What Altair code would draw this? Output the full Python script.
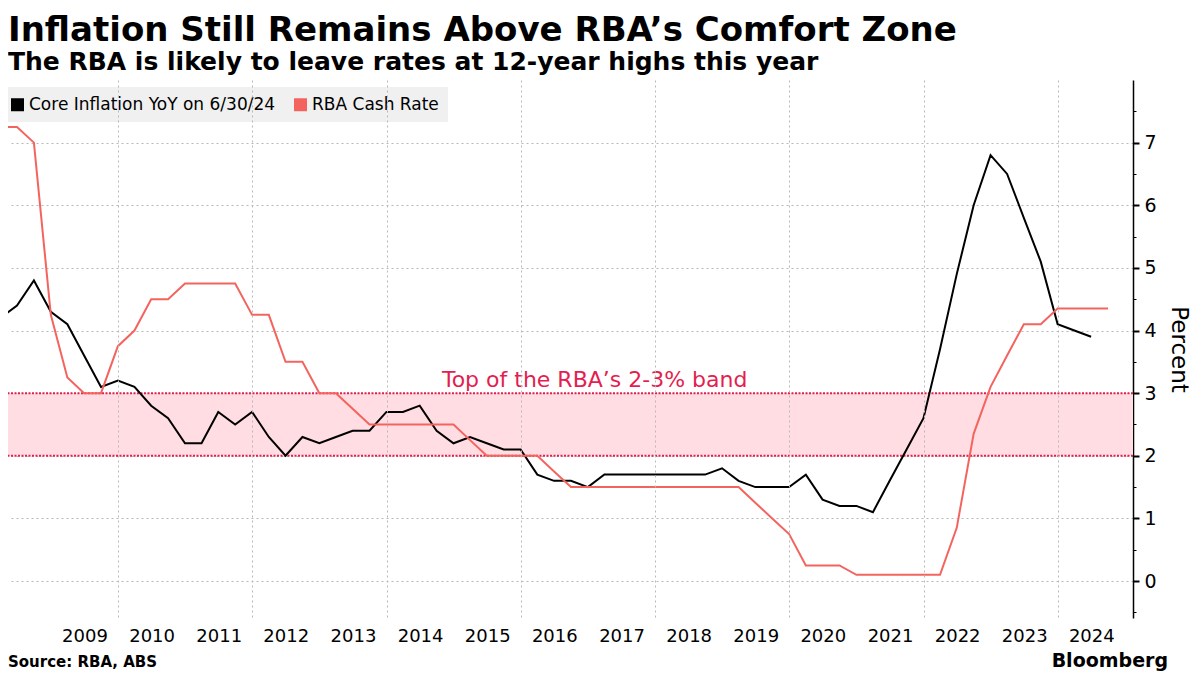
import altair as alt
import pandas as pd

# ---------------- data ----------------
title_text = "Inflation Still Remains Above RBA’s Comfort Zone"
subtitle_text = "The RBA is likely to leave rates at 12-year highs this year"
series_names = ["Core Inflation YoY on 6/30/24", "RBA Cash Rate"]
series_colors = ["#000000", "#f4645f"]

years = [2008, 2009, 2010, 2011, 2012, 2013, 2014, 2015, 2016,
         2017, 2018, 2019, 2020, 2021, 2022, 2023, 2024]
quarter_ends = ["03-31", "06-30", "09-30", "12-31"]
quarters = [f"{y}-{q}" for y in years for q in quarter_ends]

core_inflation = [
    4.2, 4.4, 4.8, 4.3,   # 2008
    4.1, 3.6, 3.1, 3.2,   # 2009
    3.1, 2.8, 2.6, 2.2,   # 2010
    2.2, 2.7, 2.5, 2.7,   # 2011
    2.3, 2.0, 2.3, 2.2,   # 2012
    2.3, 2.4, 2.4, 2.7,   # 2013
    2.7, 2.8, 2.4, 2.2,   # 2014
    2.3, 2.2, 2.1, 2.1,   # 2015
    1.7, 1.6, 1.6, 1.5,   # 2016
    1.7, 1.7, 1.7, 1.7,   # 2017
    1.7, 1.7, 1.7, 1.8,   # 2018
    1.6, 1.5, 1.5, 1.5,   # 2019
    1.7, 1.3, 1.2, 1.2,   # 2020
    1.1, 1.6, 2.1, 2.6,   # 2021
    3.7, 4.9, 6.0, 6.8,   # 2022
    6.5, 5.8, 5.1, 4.1,   # 2023
    4.0, 3.9,             # 2024
]
cash_rate = [
    7.25, 7.25, 7.0, 4.25,   # 2008
    3.25, 3.0, 3.0, 3.75,    # 2009
    4.0, 4.5, 4.5, 4.75,     # 2010
    4.75, 4.75, 4.75, 4.25,  # 2011
    4.25, 3.5, 3.5, 3.0,     # 2012
    3.0, 2.75, 2.5, 2.5,     # 2013
    2.5, 2.5, 2.5, 2.5,      # 2014
    2.25, 2.0, 2.0, 2.0,     # 2015
    2.0, 1.75, 1.5, 1.5,     # 2016
    1.5, 1.5, 1.5, 1.5,      # 2017
    1.5, 1.5, 1.5, 1.5,      # 2018
    1.5, 1.25, 1.0, 0.75,    # 2019
    0.25, 0.25, 0.25, 0.1,   # 2020
    0.1, 0.1, 0.1, 0.1,      # 2021
    0.1, 0.85, 2.35, 3.1,    # 2022
    3.6, 4.1, 4.1, 4.35,     # 2023
    4.35, 4.35, 4.35,        # 2024
]

band_low = 2
band_high = 3
band_label = "Top of the RBA’s 2-3% band"
band_label_date = "2017-02-06"

axis_years = [2009, 2010, 2011, 2012, 2013, 2014, 2015, 2016,
              2017, 2018, 2019, 2020, 2021, 2022, 2023, 2024]
y_major = [0, 1, 2, 3, 4, 5, 6, 7]
y_minor = [-0.5, 0.5, 1.5, 2.5, 3.5, 4.5, 5.5, 6.5, 7.5]
y_domain = [-0.59, 8.0]

source_text = "Source: RBA, ABS"
brand_text = "Bloomberg"

# ---------------- tables ----------------
lines_df = pd.DataFrame({
    "date": quarters[:len(core_inflation)] + quarters[:len(cash_rate)],
    "value": core_inflation + cash_rate,
    "series": [series_names[0]] * len(core_inflation) + [series_names[1]] * len(cash_rate),
})
legend_df = pd.DataFrame({"series": series_names})
band_df = pd.DataFrame({"low": [band_low], "high": [band_high]})
rule_df = pd.DataFrame({"level": [band_low, band_high]})
label_df = pd.DataFrame({"date": [band_label_date], "value": [band_high], "label": [band_label]})
footer_df = pd.DataFrame({"source": [source_text], "brand": [brand_text]})

W, H = 1125, 538
FONT = "DejaVu Sans"

x_scale = alt.Scale(
    type="utc",
    domain=[alt.DateTime(year=2008, month=5, date=12, utc=True),
            alt.DateTime(year=2025, month=2, date=13, utc=True)],
)
y_scale = alt.Scale(domain=y_domain, nice=False, zero=False)
color_scale = alt.Scale(domain=series_names, range=series_colors)

x_axis = alt.Axis(
    values=[alt.DateTime(year=y, month=1, date=1, utc=True) for y in axis_years],
    labelExpr="utcFormat(datum.value, '%Y')",
    labelOffset=33.5,
    labelFont=FONT, labelFontSize=18, labelColor="#000000",
    labelPadding=9, labelOverlap=False, labelFlush=False, labelBound=False,
    ticks=False, domain=False, title=None,
    grid=True, gridColor="#b8b8b8", gridDash=[2, 3], gridWidth=1,
    gridOpacity={"condition": {"test": "utcyear(datum.value) % 2 === 0", "value": 1}, "value": 0},
    zindex=1,
)

y_axis_major = alt.Axis(
    orient="right", values=y_major, format="d",
    labelFont=FONT, labelFontSize=19, labelColor="#000000", labelPadding=5,
    labelOverlap=False, labelFlush=False,
    domain=True, domainColor="#000000", domainWidth=1.5,
    ticks=True, tickColor="#000000", tickSize=6, tickWidth=2,
    grid=True, gridColor="#b8b8b8", gridDash=[2, 3], gridWidth=1,
    title="Percent", titleFont=FONT, titleFontSize=23, titleFontWeight="normal",
    titleColor="#000000", titlePadding=10,
)

y_axis_minor = alt.Axis(
    orient="right", values=y_minor, labels=False, domain=False, grid=False,
    ticks=True, tickColor="#000000", tickSize=3, tickWidth=1, title=None,
)

# band (carries the minor-tick axis; same explicit y domain as every layer)
band = alt.Chart(band_df).mark_rect(color="#ffdde2").encode(
    y=alt.Y("low:Q", scale=y_scale, axis=y_axis_minor),
    y2="high:Q",
)

rules = alt.Chart(rule_df).mark_rule(
    color="#e0204f", strokeWidth=2, strokeDash=[2, 1.5]
).encode(y=alt.Y("level:Q", scale=y_scale, axis=y_axis_major))

lines = alt.Chart(lines_df).mark_line(strokeWidth=2, clip=True).encode(
    x=alt.X("date:T", scale=x_scale, axis=x_axis),
    y=alt.Y("value:Q", scale=y_scale, axis=None),
    color=alt.Color("series:N", scale=color_scale, legend=None),
)

legend_layer = alt.Chart(legend_df).mark_square(size=0, opacity=1).encode(
    color=alt.Color(
        "series:N", scale=color_scale,
        legend=alt.Legend(
            title=None, orient="none", legendX=-8, legendY=7, direction="horizontal",
            fillColor="#f0f0f0", padding=9,
            symbolType="square", symbolSize=169, symbolStrokeWidth=0, symbolOpacity=1,
            labelFont=FONT, labelFontSize=17, labelColor="#000000", labelLimit=0,
            labelOffset=3, columnPadding=16,
        ),
    ),
)

band_text = alt.Chart(label_df).mark_text(
    font=FONT, fontSize=22, color="#e41e50", align="center",
    baseline="alphabetic", dy=-6,
).encode(
    x=alt.X("date:T", scale=x_scale),
    y=alt.Y("value:Q", scale=y_scale, axis=None),
    text="label:N",
)

source = alt.Chart(footer_df).mark_text(
    font=FONT, fontSize=15, fontWeight="bold", color="#000000",
    align="left", baseline="alphabetic",
).encode(x=alt.value(0), y=alt.value(587), text="source:N")

brand = alt.Chart(footer_df).mark_text(
    font=FONT, fontSize=19, fontWeight="bold", color="#000000",
    align="right", baseline="alphabetic",
).encode(x=alt.value(1160), y=alt.value(587), text="brand:N")

chart = alt.layer(
    band, rules, lines, band_text, legend_layer, source, brand
).resolve_scale(y="independent").resolve_legend(color="independent").properties(
    width=W, height=H,
    autosize=alt.AutoSizeParams(type="none"),
    padding={"left": 0, "top": 72, "right": 59, "bottom": 60},
    title=alt.TitleParams(
        text=title_text, subtitle=subtitle_text, anchor="start", frame="group",
        font=FONT, fontSize=34, fontWeight="bold", color="#000000",
        subtitleFont=FONT, subtitleFontSize=25, subtitleFontWeight="bold",
        subtitleColor="#000000", subtitlePadding=2, offset=5,
    ),
).configure_view(stroke=None)

chart.save("out.html", embed_options={"renderer": "svg", "actions": False})
